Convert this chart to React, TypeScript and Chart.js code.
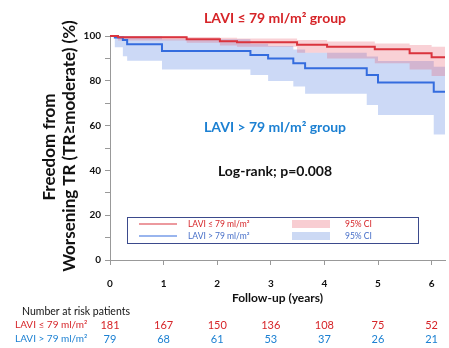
import React, { useEffect, useRef } from "react";
import { Chart, registerables } from "chart.js";

Chart.register(...registerables);

// ---- data ----
const xTicks = [0, 1, 2, 3, 4, 5, 6];
const yTicks = [0, 10, 20, 30, 40, 50, 60, 70, 80, 90, 100];
const xEnd = 6.25;

const redTimes = [0, 0.15, 1.43, 2.05, 2.37, 3.49, 4.05, 4.94, 5.59, 6.0];
const redSurv = [100, 99.4, 98.5, 97.7, 97.2, 96.1, 95.2, 94.1, 92.3, 90.5];
const redUpper = [100, 100, 99.6, 99.2, 98.9, 98.2, 97.5, 96.7, 96.0, 95.2];
const redLower = [100, 98.0, 97.0, 95.8, 95.2, 92.5, 90.0, 87.8, 85.1, 82.1];

const blueTimes = [0, 0.09, 0.24, 0.32, 0.97, 2.62, 2.95, 3.42, 3.64, 4.79, 5.0, 6.04];
const blueSurv = [100, 99.3, 98.2, 96.3, 93.3, 91.5, 90.0, 87.8, 85.6, 82.6, 79.2, 75.1];
const blueUpper = [100, 100, 100, 100, 98.5, 96.5, 95.5, 94.0, 92.5, 90.8, 88.8, 86.3];
const blueLower = [100, 95.0, 91.0, 89.0, 85.1, 82.6, 79.9, 77.4, 74.2, 69.2, 64.7, 56.0];

const riskRed = [181, 167, 150, 136, 108, 75, 52];
const riskBlue = [79, 68, 61, 53, 37, 26, 21];

const RED = "rgb(218,52,62)";
const BLUE = "rgb(52,108,222)";
const RED_TXT = "rgb(214,36,40)";
const BLUE_TXT = "rgb(28,128,210)";
const RED_FILL = "rgba(230,70,90,0.25)";
const BLUE_FILL = "rgba(85,130,225,0.3)";
const FONT = "Lato, 'Open Sans', sans-serif";

function pts(times: number[], vals: number[]) {
  const p = times.map((t, i) => ({ x: t, y: vals[i] }));
  p.push({ x: xEnd, y: vals[vals.length - 1] });
  return p;
}

const overlay = {
  id: "overlay",
  afterDraw(chart: any) {
    const ctx = chart.ctx as CanvasRenderingContext2D;
    const xs = chart.scales.x;
    const ca = chart.chartArea;
    const cx = (ca.left + ca.right) / 2;
    ctx.save();
    ctx.textBaseline = "middle";

    // group labels
    ctx.textAlign = "center";
    ctx.font = `bold 14px ${FONT}`;
    ctx.fillStyle = RED_TXT;
    ctx.fillText("LAVI ≤ 79 ml/m² group", 275, 18);
    ctx.fillStyle = BLUE_TXT;
    ctx.fillText("LAVI > 79 ml/m² group", 275, 127);
    ctx.fillStyle = "#111";
    ctx.font = `bold 14px ${FONT}`;
    ctx.fillText("Log-rank; p=0.008", 275, 171);

    // x title
    ctx.font = `bold 12px ${FONT}`;
    ctx.fillStyle = "#111";
    ctx.fillText("Follow-up (years)", cx, 298);

    // y title
    ctx.save();
    ctx.translate(50, 147);
    ctx.rotate(-Math.PI / 2);
    ctx.font = `bold 17px ${FONT}`;
    ctx.fillText("Freedom from", 0, 0);
    ctx.restore();
    ctx.save();
    ctx.translate(70, 146);
    ctx.rotate(-Math.PI / 2);
    ctx.font = `bold 17px ${FONT}`;
    ctx.fillText("Worsening TR (TR≥moderate) (%)", 0, 0);
    ctx.restore();

    // legend box
    ctx.strokeStyle = "#3b4a8c";
    ctx.lineWidth = 1;
    ctx.strokeRect(127.5, 217.5, 291, 26);
    ctx.lineWidth = 1.2;
    ctx.strokeStyle = RED;
    ctx.beginPath();
    ctx.moveTo(139, 224);
    ctx.lineTo(177, 224);
    ctx.stroke();
    ctx.strokeStyle = BLUE;
    ctx.beginPath();
    ctx.moveTo(139, 236);
    ctx.lineTo(177, 236);
    ctx.stroke();
    ctx.fillStyle = "rgba(248,205,210,1)";
    ctx.fillRect(292, 220, 38, 8);
    ctx.fillStyle = "rgba(204,217,244,1)";
    ctx.fillRect(292, 232, 38, 8);
    ctx.font = `8.5px ${FONT}`;
    ctx.textAlign = "left";
    ctx.fillStyle = RED_TXT;
    ctx.fillText("LAVI ≤ 79 ml/m²", 188, 224);
    ctx.fillText("95% CI", 345, 224);
    ctx.fillStyle = "rgb(70,110,200)";
    ctx.fillText("LAVI > 79 ml/m²", 188, 236);
    ctx.fillText("95% CI", 345, 236);

    // risk table
    ctx.font = `10.5px ${FONT}`;
    ctx.fillStyle = "#111";
    ctx.fillText("Number at risk patients", 22, 312);
    ctx.font = `10px ${FONT}`;
    ctx.fillStyle = RED_TXT;
    ctx.fillText("LAVI ≤ 79 ml/m²", 15, 325);
    ctx.fillStyle = BLUE_TXT;
    ctx.fillText("LAVI > 79 ml/m²", 15, 339);
    ctx.font = `11px ${FONT}`;
    ctx.textAlign = "center";
    xTicks.forEach((t, i) => {
      const px = xs.getPixelForValue(t);
      ctx.fillStyle = RED_TXT;
      ctx.fillText(String(riskRed[i]), px, 325);
      ctx.fillStyle = BLUE_TXT;
      ctx.fillText(String(riskBlue[i]), px, 339);
    });
    ctx.restore();
  },
};

export default function App() {
  const ref = useRef<HTMLCanvasElement>(null);
  useEffect(() => {
    if (!ref.current) return;
    const lineDs = (label: string, data: any, color: string) => ({
      label,
      data,
      borderColor: color,
      borderWidth: 2,
      pointRadius: 0,
      stepped: "before" as const,
      fill: false,
      clip: 6,
    });
    const bandDs = (data: any, fill: any, bg: string) => ({
      data,
      borderWidth: 0,
      borderColor: "rgba(0,0,0,0)",
      backgroundColor: bg,
      pointRadius: 0,
      stepped: "before" as const,
      fill,
      clip: 6,
    });
    const chart = new Chart(ref.current, {
      type: "line",
      data: {
        datasets: [
          lineDs("red", pts(redTimes, redSurv), RED),
          lineDs("blue", pts(blueTimes, blueSurv), BLUE),
          bandDs(pts(redTimes, redUpper), 3, RED_FILL),
          bandDs(pts(redTimes, redLower), false, "rgba(0,0,0,0)"),
          bandDs(pts(blueTimes, blueUpper), 5, BLUE_FILL),
          bandDs(pts(blueTimes, blueLower), false, "rgba(0,0,0,0)"),
        ] as any,
      },
      options: {
        animation: false,
        responsive: false,
        maintainAspectRatio: false,
        layout: { padding: { top: 36, right: 4, left: 0, bottom: 0 } },
        plugins: { legend: { display: false }, tooltip: { enabled: false } },
        scales: {
          x: {
            type: "linear",
            min: 0,
            max: xEnd,
            afterBuildTicks: (s: any) => {
              s.ticks = xTicks.map((v) => ({ value: v }));
            },
            afterFit: (s: any) => {
              s.height = 88;
            },
            ticks: {
              font: { family: FONT, weight: "bold", size: 10 },
              color: "#111",
              padding: 13,
              maxRotation: 0,
            },
            grid: { drawOnChartArea: false, drawTicks: true, tickLength: 5, color: "#999" },
            border: { display: true, color: "#999", width: 1 },
          },
          y: {
            type: "linear",
            min: 0,
            max: 100,
            afterBuildTicks: (s: any) => {
              s.ticks = yTicks.map((v) => ({ value: v }));
            },
            afterFit: (s: any) => {
              s.width = 110;
            },
            ticks: {
              font: { family: FONT, weight: "bold", size: 10 },
              color: "#111",
              padding: 4,
              callback: (v: any) => (Number(v) % 20 === 0 ? String(v) : ""),
            },
            grid: { drawOnChartArea: false, drawTicks: true, tickLength: 5, color: "#999" },
            border: { display: true, color: "#999", width: 1 },
          },
        },
      },
      plugins: [overlay],
    });
    return () => chart.destroy();
  }, []);
  return (
    <div style={{ position: "absolute", left: 0, top: 0, width: 449, height: 348, background: "#fff" }}>
      <canvas ref={ref} width={449} height={348} style={{ width: 449, height: 348 }} />
    </div>
  );
}
